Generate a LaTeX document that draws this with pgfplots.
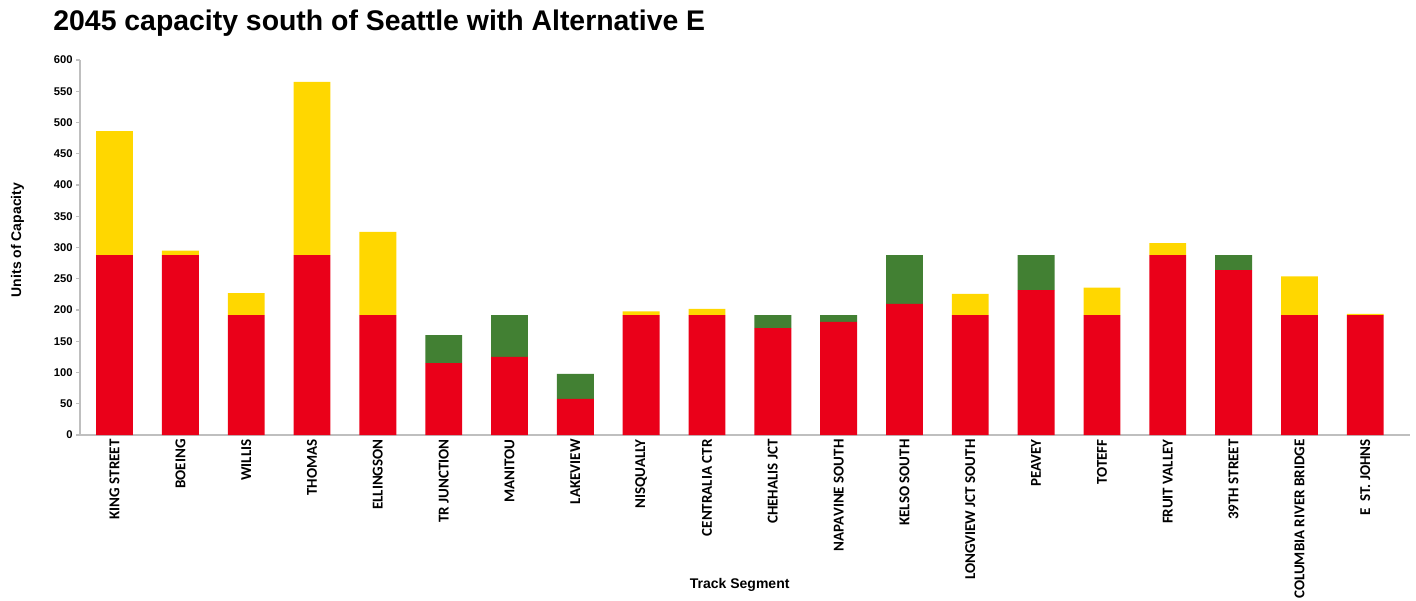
\documentclass[border=0pt]{standalone}
\usepackage{fontspec}
\setmainfont{Liberation Sans}
\newfontfamily\labfont{Carlito}
\usepackage{pgfplots}
\usepackage{pgfplotstable}
\pgfplotsset{compat=1.18}

\definecolor{capred}{HTML}{EA0019}
\definecolor{capyellow}{HTML}{FFD700}
\definecolor{capgreen}{HTML}{428033}
\definecolor{axisgray}{HTML}{BFBFBF}

% base capacity, extra capacity (yellow) and surplus (green) per segment
\pgfplotstableread{
x base yel grn
0  288 198 0
1  288 7   0
2  192 35  0
3  288 277 0
4  192 133 0
5  115 0   45
6  125 0   67
7  58  0   40
8  192 6   0
9  192 10  0
10 171 0   21
11 181 0   11
12 210 0   78
13 192 34  0
14 232 0   56
15 192 44  0
16 288 19  0
17 264 0   24
18 192 62  0
19 192 2   0
}\captable

\begin{document}
\begin{tikzpicture}
\path[use as bounding box] (0,0) rectangle (708pt,300pt);
\node[anchor=base west, font=\fontsize{14.2}{16}\selectfont\bfseries, inner sep=0pt]
  at (26.5pt,284.5pt) {2045 capacity south of Seattle with Alternative E};
\begin{axis}[
  at={(40pt,82.5pt)}, anchor=south west,
  scale only axis, width=665pt, height=187.5pt,
  ybar stacked, bar width=0.56,
  xmin=-0.525, xmax=19.68,
  ymin=0, ymax=600,
  ytick={0,50,...,600},
  xtick=data,
  xticklabels={KING STREET,BOEING,WILLIS,THOMAS,ELLINGSON,TR JUNCTION,MANITOU,LAKEVIEW,NISQUALLY,CENTRALIA CTR,CHEHALIS JCT,NAPAVINE SOUTH,KELSO SOUTH,LONGVIEW JCT SOUTH,PEAVEY,TOTEFF,FRUIT VALLEY,39TH STREET,COLUMBIA RIVER BRIDGE,E\ \ ST. JOHNS},
  x tick label style={rotate=90, anchor=east, font=\labfont\bfseries\fontsize{7.5}{8}\selectfont, inner sep=1pt, xshift=-1pt},
  y tick label style={font=\bfseries\fontsize{5.6}{6}\selectfont, inner sep=1.5pt},
  /pgf/number format/assume math mode=true,
  axis x line*=bottom, axis y line*=left,
  axis line style={axisgray, line width=0.8pt},
  x axis line style={-}, y axis line style={-},
  tick style={axisgray, line width=0.6pt},
  xtick style={draw=none},
  ytick align=outside, major tick length=2pt,
  xlabel={Track Segment},
  xlabel style={font=\bfseries\fontsize{7}{8}\selectfont, at={(axis description cs:0.496,-0.40)}, anchor=center},
  ylabel={Units of Capacity},
  ylabel style={font=\bfseries\fontsize{7}{8}\selectfont, at={(axis description cs:-0.047,0.52)}, anchor=center, rotate=0},
  clip=false,
]
\addplot[fill=capred, draw=none] table[x=x, y=base] {\captable};
\addplot[fill=capyellow, draw=none] table[x=x, y=yel] {\captable};
\addplot[fill=capgreen, draw=none] table[x=x, y=grn] {\captable};
\end{axis}
\end{tikzpicture}
\end{document}
